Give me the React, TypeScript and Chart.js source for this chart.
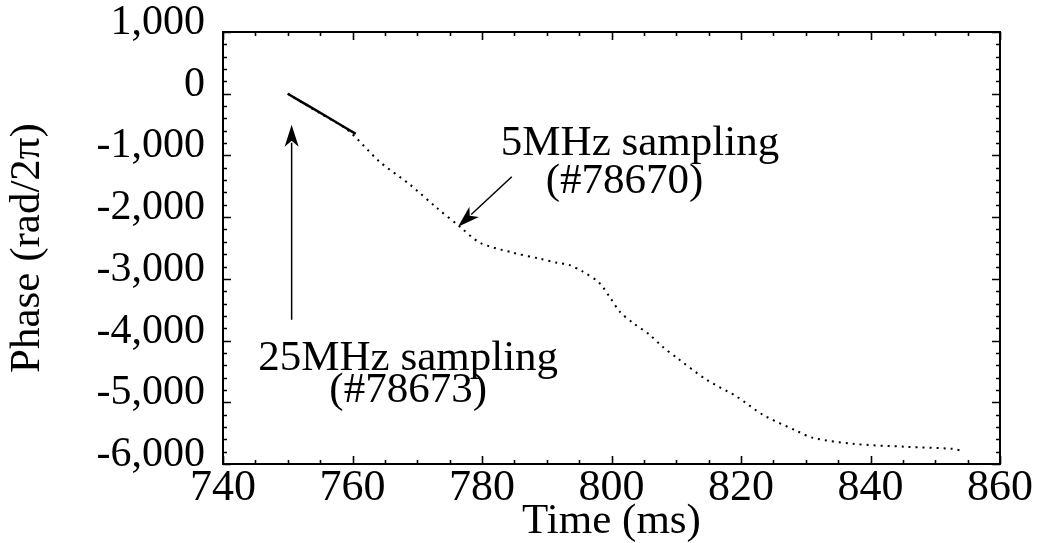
import React, { useEffect, useRef } from "react";
import { Chart, registerables } from "chart.js";

Chart.register(...registerables);

// ---- data ----
const time25: number[] = [750.0, 752.0, 754.0, 756.0, 758.0, 760.5];
const phase25: number[] = [0, -125, -245, -370, -495, -650];

const time5: number[] = [
  750.0, 755.0, 759.2, 764.2, 768.9, 773.0, 776.6, 779.7, 784.8, 789.0, 791.6,
  793.4, 795.6, 798.1, 799.8, 801.3, 803.3, 805.9, 807.9, 810.1, 814.7, 819.4,
  823.4, 828.6, 831.1, 837.3, 845.6, 852.7, 854.1,
];
const phase5: number[] = [
  0, -320, -584, -1102, -1475, -1848, -2156, -2415, -2577, -2675, -2740,
  -2772, -2885, -3064, -3307, -3534, -3712, -3907, -4101, -4280, -4636, -4912,
  -5204, -5463, -5576, -5673, -5722, -5755, -5787,
];

const xTicks: number[] = [740, 760, 780, 800, 820, 840, 860];
const yTicks: number[] = [1000, 0, -1000, -2000, -3000, -4000, -5000, -6000];
const xMinorStep = 5;
const yMinorStep = 200;

const xLabel = "Time (ms)";
const yLabel = "Phase (rad/2\u03c0)";

// annotations in data coordinates
const noteTexts: string[] = ["5MHz sampling", "(#78670)", "25MHz sampling", "(#78673)"];
const noteX: number[] = [804.4, 802.0, 768.6, 768.6];
const noteY: number[] = [-989, -1605, -4474, -5000];

const arrowFromX: number[] = [750.6, 784.6];
const arrowFromY: number[] = [-3663, -1345];
const arrowToX: number[] = [750.6, 776.3];
const arrowToY: number[] = [-502, -2156];

const FONT_FAMILY = "'Liberation Serif', 'Times New Roman', serif";

const boxAndTicksPlugin = {
  id: "boxAndTicks",
  afterDatasetsDraw(chart: any) {
    const { ctx, chartArea, scales } = chart;
    const xs = scales.x;
    const ys = scales.y;
    const { left, right, top, bottom } = chartArea;
    ctx.save();
    ctx.strokeStyle = "#000";
    ctx.lineWidth = 2;
    ctx.strokeRect(left, top, right - left, bottom - top);

    ctx.lineWidth = 1.6;
    const xmin = xs.min, xmax = xs.max, ymin = ys.min, ymax = ys.max;
    for (let v = xmin; v <= xmax + 1e-6; v += xMinorStep) {
      const major = xTicks.some((t) => Math.abs(t - v) < 1e-6);
      const len = major ? 8 : 4;
      const px = Math.round(xs.getPixelForValue(v)) + 0.5;
      ctx.beginPath();
      ctx.moveTo(px, bottom);
      ctx.lineTo(px, bottom - len);
      ctx.moveTo(px, top);
      ctx.lineTo(px, top + len);
      ctx.stroke();
    }
    for (let v = ymin; v <= ymax + 1e-6; v += yMinorStep) {
      const major = yTicks.some((t) => Math.abs(t - v) < 1e-6);
      const len = major ? 8 : 4;
      const py = Math.round(ys.getPixelForValue(v)) + 0.5;
      ctx.beginPath();
      ctx.moveTo(left, py);
      ctx.lineTo(left + len, py);
      ctx.moveTo(right, py);
      ctx.lineTo(right - len, py);
      ctx.stroke();
    }
    ctx.restore();
  },
};

const annotationsPlugin = {
  id: "notes",
  afterDatasetsDraw(chart: any) {
    const { ctx, scales } = chart;
    const xs = scales.x;
    const ys = scales.y;
    ctx.save();
    ctx.fillStyle = "#000";
    ctx.strokeStyle = "#000";
    ctx.font = `43px ${FONT_FAMILY}`;
    ctx.textAlign = "center";
    ctx.textBaseline = "alphabetic";
    noteTexts.forEach((t, i) => {
      ctx.fillText(t, xs.getPixelForValue(noteX[i]), ys.getPixelForValue(noteY[i]));
    });
    arrowFromX.forEach((_, i) => {
      const x1 = xs.getPixelForValue(arrowFromX[i]);
      const y1 = ys.getPixelForValue(arrowFromY[i]);
      const x2 = xs.getPixelForValue(arrowToX[i]);
      const y2 = ys.getPixelForValue(arrowToY[i]);
      const ang = Math.atan2(y2 - y1, x2 - x1);
      const headLen = 22;
      const headW = 7;
      const bx = x2 - headLen * Math.cos(ang);
      const by = y2 - headLen * Math.sin(ang);
      ctx.lineWidth = 1.5;
      ctx.beginPath();
      ctx.moveTo(x1, y1);
      ctx.lineTo(bx + 4 * Math.cos(ang), by + 4 * Math.sin(ang));
      ctx.stroke();
      ctx.beginPath();
      ctx.moveTo(x2, y2);
      ctx.lineTo(bx - headW * Math.sin(ang), by + headW * Math.cos(ang));
      ctx.lineTo(bx + 6 * Math.cos(ang), by + 6 * Math.sin(ang));
      ctx.lineTo(bx + headW * Math.sin(ang), by - headW * Math.cos(ang));
      ctx.closePath();
      ctx.fill();
    });
    ctx.restore();
  },
};

export default function App() {
  const canvasRef = useRef<HTMLCanvasElement | null>(null);

  useEffect(() => {
    if (!canvasRef.current) return;
    const tickFont = { family: FONT_FAMILY, size: 42 };
    const chart = new Chart(canvasRef.current, {
      type: "line",
      data: {
        datasets: [
          {
            label: "5MHz sampling (#78670)",
            data: time5.map((x, i) => ({ x, y: phase5[i] })),
            borderColor: "#000",
            borderWidth: 2,
            borderDash: [2, 5],
            pointRadius: 0,
            tension: 0.3,
            fill: false,
          },
          {
            label: "25MHz sampling (#78673)",
            data: time25.map((x, i) => ({ x, y: phase25[i] })),
            borderColor: "#000",
            borderWidth: 2.5,
            pointRadius: 0,
            fill: false,
          },
        ],
      },
      options: {
        responsive: false,
        maintainAspectRatio: false,
        animation: false,
        layout: { padding: { top: 32, right: 37, left: 0, bottom: 0 } },
        plugins: {
          legend: { display: false },
          tooltip: { enabled: false },
        },
        scales: {
          x: {
            type: "linear",
            min: 740,
            max: 860,
            afterBuildTicks: (s: any) => {
              s.ticks = xTicks.map((v) => ({ value: v }));
            },
            ticks: {
              font: { ...tickFont, size: 44 },
              color: "#000",
              padding: -2,
              maxRotation: 0,
              autoSkip: false,
            },
            grid: { display: false, drawTicks: false },
            border: { display: false },
            title: {
              display: true,
              text: xLabel,
              color: "#000",
              font: { family: FONT_FAMILY, size: 43, lineHeight: 1 },
              padding: { top: 0, bottom: 0 },
            },
            afterFit: (s: any) => {
              s.height = 79;
              s.paddingLeft = 0;
              s.paddingRight = 0;
            },
          },
          y: {
            type: "linear",
            min: -6000,
            max: 1000,
            afterBuildTicks: (s: any) => {
              s.ticks = yTicks.map((v) => ({ value: v }));
            },
            ticks: {
              font: tickFont,
              color: "#000",
              padding: 18,
              labelOffset: -9,
              autoSkip: false,
              callback: (v: any) => Number(v).toLocaleString("en-US"),
            },
            grid: { display: false, drawTicks: false },
            border: { display: false },
            title: {
              display: true,
              text: yLabel,
              color: "#000",
              font: { family: FONT_FAMILY, size: 43, lineHeight: 1 },
              padding: { top: 6, bottom: 0 },
            },
            afterFit: (s: any) => {
              s.width = 223;
              s.paddingTop = 0;
              s.paddingBottom = 0;
            },
          },
        },
      },
      plugins: [boxAndTicksPlugin, annotationsPlugin],
    });
    return () => chart.destroy();
  }, []);

  return (
    <div style={{ position: "absolute", left: 0, top: 0, width: 1037, height: 543, background: "#fff" }}>
      <canvas ref={canvasRef} width={1037} height={543} style={{ width: 1037, height: 543 }} />
    </div>
  );
}
